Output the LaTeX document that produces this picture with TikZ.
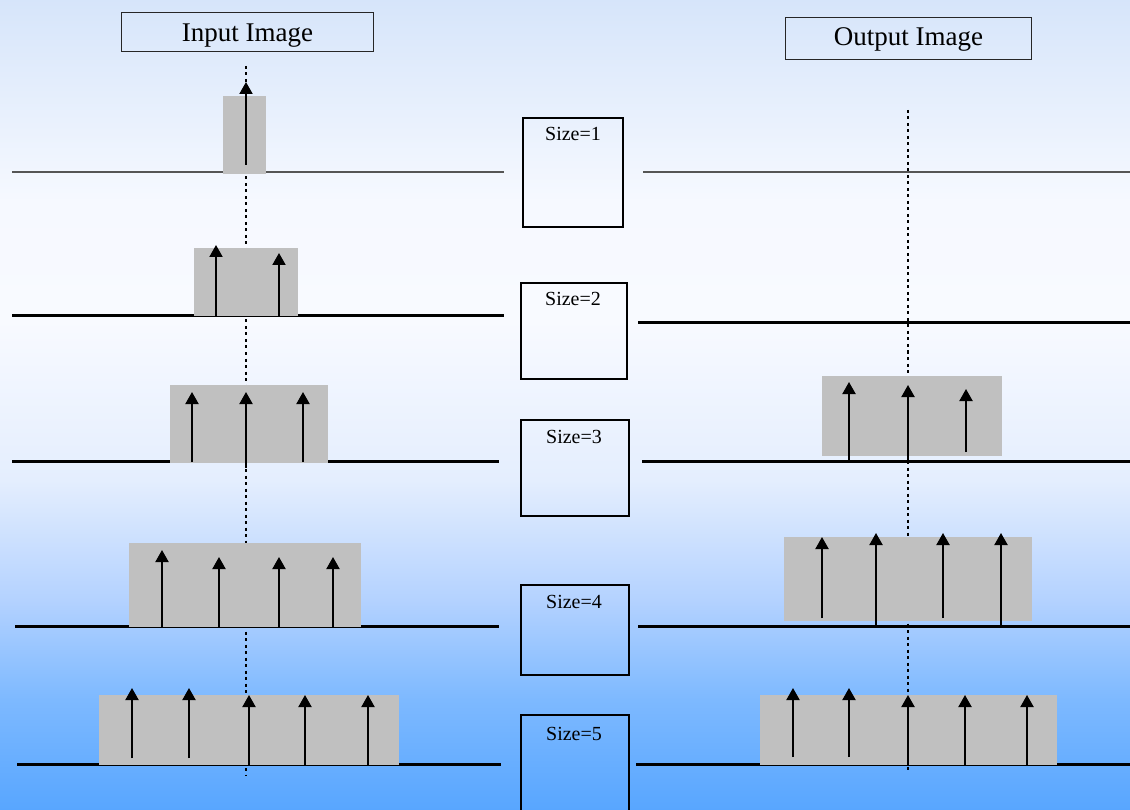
\documentclass[tikz,border=0pt]{standalone}
\usepackage{fontspec}
\setmainfont{Liberation Serif}
\usetikzlibrary{arrows.meta}

% sky-like vertical fade, listed from bottom to top;
% the picture area maps onto the band 25bp..75bp
\pgfdeclareverticalshading{skyfade}{100bp}{
  rgb(0bp)=(0.345,0.651,1);
  rgb(25bp)=(0.345,0.651,1);
  rgb(31.8bp)=(0.49,0.725,1);
  rgb(38bp)=(0.706,0.824,1);
  rgb(45.35bp)=(0.894,0.933,0.996);
  rgb(55.25bp)=(0.973,0.98,1);
  rgb(62.5bp)=(0.965,0.976,1);
  rgb(75bp)=(0.84,0.898,0.98);
  rgb(100bp)=(0.84,0.898,0.98)}

\definecolor{windowgray}{HTML}{C0C0C0}
\definecolor{thinaxis}{HTML}{555555}

\tikzset{
  titlebox/.style={draw=black!85, line width=1pt, inner sep=0pt},
  titletext/.style={font=\fontsize{27}{30}\selectfont, anchor=base, inner sep=0pt},
  sizebox/.style={draw=black, line width=2.8pt, inner sep=0pt},
  sizetext/.style={font=\fontsize{20}{22}\selectfont, anchor=base, inner sep=0pt},
  axis/.style={line width=3pt, black},
  thinax/.style={line width=1.4pt, thinaxis},
  centerline/.style={line width=2.2pt, dash pattern=on 3pt off 3.5pt},
  window/.style={fill=windowgray},
  stem/.style={line width=2pt, -{Triangle[width=13pt,length=12pt]}}
}

\begin{document}
\begin{tikzpicture}[x=1pt,y=-1pt]
  \clip (0,0) rectangle (1130,810);
  \shade[shading=skyfade] (0,0) rectangle (1130,810);
  \useasboundingbox (0,0) rectangle (1130,810);

  % headings
  \node[titlebox, minimum width=252pt, minimum height=39pt] (inbox) at (247.5,32) {};
  \node[titletext] (intext) at (247.5,42) {Input Image};
  \node[titlebox, minimum width=246pt, minimum height=42pt] (outbox) at (908.5,39) {};
  \node[titletext] (outtext) at (908.5,46) {Output Image};

  % window size boxes
  \node[sizebox, minimum width=100pt, minimum height=109pt] (s1) at (573,172.5) {};
  \node[sizetext] (s1t) at (573,141) {Size=1};
  \node[sizebox, minimum width=106pt, minimum height=96pt] (s2) at (574,331) {};
  \node[sizetext] (s2t) at (573,306) {Size=2};
  \node[sizebox, minimum width=108pt, minimum height=96pt] (s3) at (575,468) {};
  \node[sizetext] (s3t) at (574,443) {Size=3};
  \node[sizebox, minimum width=108pt, minimum height=90pt] (s4) at (575,630) {};
  \node[sizetext] (s4t) at (574,608) {Size=4};
  \node[sizebox, minimum width=108pt, minimum height=110pt] (s5) at (575,770) {};
  \node[sizetext] (s5t) at (574,740) {Size=5};

  % centre lines
  \draw[centerline] (246,66) -- (246,775);
  \draw[centerline] (908,110) -- (908,772);

  % axes, input side
  \draw[thinax] (12,172) -- (504,172);
  \draw[axis] (12,316) -- (504,316);
  \draw[axis] (12,461) -- (499,461);
  \draw[axis] (15,626) -- (499,626);
  \draw[axis] (17,764) -- (501,764);

  % axes, output side
  \draw[thinax] (643,172) -- (1130,172);
  \draw[axis] (638,323) -- (1130,323);
  \draw[axis] (642,461) -- (1130,461);
  \draw[axis] (638,626) -- (1130,626);
  \draw[axis] (636,764) -- (1130,764);

  % windows, input side
  \fill[window] (223,96) rectangle (266,174);
  \fill[window] (194,248) rectangle (298,316);
  \fill[window] (170,385) rectangle (328,463);
  \fill[window] (129,543) rectangle (361,627);
  \fill[window] (99,695) rectangle (399,765);

  % windows, output side
  \fill[window] (822,376) rectangle (1002,456);
  \fill[window] (784,537) rectangle (1032,621);
  \fill[window] (760,695) rectangle (1057,765);

  % samples, input side
  \draw[stem] (246,165) -- (246,82);

  \draw[stem] (216,316) -- (216,245);
  \draw[stem] (279,316) -- (279,253);

  \draw[stem] (192,462) -- (192,392);
  \draw[stem] (246,468) -- (246,392);
  \draw[stem] (303,462) -- (303,392);

  \draw[stem] (162,627) -- (162,550);
  \draw[stem] (219,627) -- (219,557);
  \draw[stem] (279,627) -- (279,557);
  \draw[stem] (333,627) -- (333,557);

  \draw[stem] (132,758) -- (132,688);
  \draw[stem] (189,758) -- (189,688);
  \draw[stem] (249,765) -- (249,695);
  \draw[stem] (305,765) -- (305,695);
  \draw[stem] (368,765) -- (368,695);

  % samples, output side
  \draw[stem] (849,460) -- (849,382);
  \draw[stem] (908,461) -- (908,385);
  \draw[stem] (966,452) -- (966,389);

  \draw[stem] (822,618) -- (822,537);
  \draw[stem] (876,626) -- (876,533);
  \draw[stem] (943,618) -- (943,533);
  \draw[stem] (1001,626) -- (1001,533);

  \draw[stem] (793,757) -- (793,688);
  \draw[stem] (849,757) -- (849,688);
  \draw[stem] (908,765) -- (908,695);
  \draw[stem] (965,765) -- (965,695);
  \draw[stem] (1027,765) -- (1027,695);
\end{tikzpicture}
\end{document}
